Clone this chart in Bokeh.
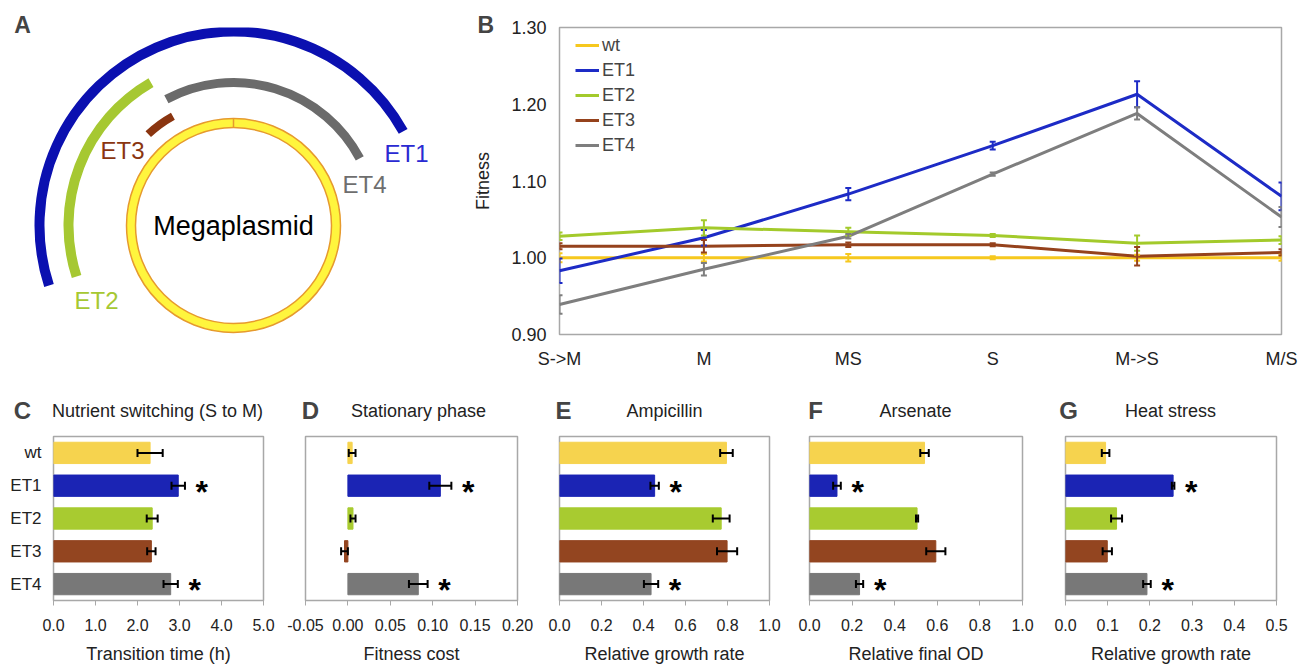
import numpy as np
from bokeh.plotting import figure
from bokeh.models import (Range1d, FactorRange, FixedTicker, NumeralTickFormatter,
                          Label, Whisker, TeeHead, ColumnDataSource, Legend, LegendItem)
from bokeh.layouts import row, column
from bokeh.embed import file_html
from bokeh.resources import INLINE
from bokeh.core.properties import value

FONT = "Liberation Sans"

# ---------------- data ----------------
strains = ["wt", "ET1", "ET2", "ET3", "ET4"]
bar_colors = ["#F6D34E", "#1B24B4", "#A8CB30", "#934520", "#787878"]
line_colors = ["#F6C81E", "#1D2BC6", "#A3CA2B", "#95421C", "#7E7E7E"]

# Panel A: segments on the megaplasmid (angles in degrees)
seg_names = ["ET1", "ET2", "ET4", "ET3"]
seg_radius = [194, 165, 143, 125]
seg_start_deg = [29, 120, 28, 119]
seg_end_deg = [198, 198, 118, 133]
seg_colors = ["#0B10B0", "#A6C832", "#6B6B6B", "#8A3510"]
seg_text_colors = ["#2A2AD2", "#A6C832", "#6E6E6E", "#8A3510"]

# Panel B: fitness per condition
conditions = ["S->M", "M", "MS", "S", "M->S", "M/S"]
fit_wt = [1.000, 1.000, 1.000, 1.000, 1.000, 1.000]
err_wt = [0.006, 0.005, 0.005, 0.002, 0.004, 0.004]
fit_et1 = [0.983, 1.026, 1.083, 1.146, 1.213, 1.080]
err_et1 = [0.016, 0.010, 0.008, 0.005, 0.017, 0.018]
fit_et2 = [1.028, 1.039, 1.034, 1.029, 1.019, 1.023]
err_et2 = [0.005, 0.010, 0.005, 0.002, 0.010, 0.005]
fit_et3 = [1.015, 1.015, 1.017, 1.017, 1.002, 1.007]
err_et3 = [0.004, 0.008, 0.003, 0.002, 0.012, 0.004]
fit_et4 = [0.939, 0.985, 1.028, 1.109, 1.188, 1.053]
err_et4 = [0.012, 0.008, 0.003, 0.002, 0.008, 0.013]

# Panels C-G
switch_time = [2.30, 2.97, 2.35, 2.33, 2.79]
switch_err = [0.30, 0.16, 0.13, 0.10, 0.17]
stat_cost = [0.005, 0.109, 0.006, -0.004, 0.083]
stat_err = [0.004, 0.013, 0.003, 0.004, 0.011]
amp_rate = [0.795, 0.453, 0.770, 0.798, 0.436]
amp_err = [0.030, 0.020, 0.040, 0.048, 0.034]
ars_od = [0.540, 0.129, 0.505, 0.593, 0.235]
ars_err = [0.020, 0.018, 0.005, 0.045, 0.017]
heat_rate = [0.095, 0.255, 0.121, 0.099, 0.193]
heat_err = [0.009, 0.003, 0.013, 0.011, 0.009]
significant = [False, True, False, False, True]

# ---------------- panel A ----------------
cx, cy = 233, -225
pA = figure(width=470, height=373, x_range=Range1d(0, 470), y_range=Range1d(-334, -27),
            output_backend="svg", toolbar_location=None,
            min_border_left=0, min_border_right=0, min_border_top=27, min_border_bottom=39)
pA.axis.visible = False
pA.grid.visible = False
pA.outline_line_color = None
seg_widths = [10, 10, 9, 8]
for r, a0, a1, c, w in zip(seg_radius, seg_start_deg, seg_end_deg, seg_colors, seg_widths):
    pA.arc(x=cx, y=cy, radius=r, start_angle=np.deg2rad(a0), end_angle=np.deg2rad(a1),
           direction="anticlock", line_color=c, line_width=w, line_cap="butt")
pA.annulus(x=cx, y=cy, inner_radius=98, outer_radius=107, fill_color="#FFF53D",
           line_color="#E69A2E", line_width=1.5)
pA.segment(x0=cx, y0=cy + 98, x1=cx, y1=cy + 107, line_color="#E69A2E", line_width=1.5)
seg_label_pos = [(406, -153), (96, -300), (364, -184), (122, -150)]
for n, (lx, ly), c in zip(seg_names, seg_label_pos, seg_text_colors):
    pA.add_layout(Label(x=lx, y=ly, text=n, text_color=c, text_font=FONT, text_font_size="24px",
                        text_align="center", text_baseline="middle"))
pA.add_layout(Label(x=cx, y=cy, text="Megaplasmid", text_color="black", text_font=FONT,
                    text_font_size="27px", text_align="center", text_baseline="middle"))
pA.add_layout(Label(x=22, y=-24, text="A", text_font=FONT, text_font_size="23px",
                    text_font_style="bold", text_align="center", text_baseline="alphabetic"),
              "above")

# ---------------- panel B ----------------
pB = figure(width=828, height=373, x_range=Range1d(0, 5), y_range=Range1d(0.9, 1.3),
            output_backend="svg", toolbar_location=None,
            min_border_left=86, min_border_right=17, min_border_top=27, min_border_bottom=39)
pB.grid.visible = False
pB.outline_line_color = "#A8A8A8"
pB.outline_line_width = 1.5
idx = list(range(len(conditions)))
series = [("wt", fit_wt, err_wt), ("ET1", fit_et1, err_et1), ("ET2", fit_et2, err_et2),
          ("ET3", fit_et3, err_et3), ("ET4", fit_et4, err_et4)]
items = []
for (name, fit, err), col in zip(series, line_colors):
    r = pB.line(x=idx, y=fit, line_color=col, line_width=3)
    src = ColumnDataSource(dict(x=idx, lo=[f - e for f, e in zip(fit, err)],
                                hi=[f + e for f, e in zip(fit, err)]))
    wk = Whisker(base="x", lower="lo", upper="hi", dimension="height", source=src,
                 line_color=col, line_width=2, level="overlay",
                 upper_head=TeeHead(size=6, line_color=col, line_width=2),
                 lower_head=TeeHead(size=6, line_color=col, line_width=2))
    pB.add_layout(wk)
    items.append(LegendItem(label=name, renderers=[r]))
legend = Legend(items=items, location=(16, 178), label_text_font=FONT, label_text_font_size="18px",
                glyph_width=24, glyph_height=22, label_height=22, spacing=3, padding=2, margin=0,
                label_standoff=3, border_line_color=None, background_fill_alpha=0)
pB.add_layout(legend)
pB.xaxis.ticker = FixedTicker(ticks=idx)
pB.xaxis.major_label_overrides = {i: c for i, c in zip(idx, conditions)}
pB.yaxis.ticker = FixedTicker(ticks=[0.9, 1.0, 1.1, 1.2, 1.3])
pB.yaxis.formatter = NumeralTickFormatter(format="0.00")
for ax in (pB.xaxis[0], pB.yaxis[0]):
    ax.axis_line_color = None
    ax.major_tick_line_color = None
    ax.minor_tick_line_color = None
    ax.major_tick_out = 0
    ax.major_tick_in = 0
    ax.major_label_text_font = FONT
    ax.major_label_text_font_size = "18px"
    ax.major_label_text_color = "#222222"
pB.xaxis.major_label_standoff = 14
pB.yaxis.major_label_standoff = 13
pB.yaxis.axis_label = "Fitness"
pB.yaxis.axis_label_text_font = FONT
pB.yaxis.axis_label_text_font_size = "18px"
pB.yaxis.axis_label_text_font_style = "normal"
pB.yaxis.axis_label_text_color = "#222222"
pB.yaxis.axis_label_standoff = 15
pB.add_layout(Label(x=-0.51, y=1.3 + 3 / 767.5, text="B", text_font=FONT, text_font_size="23px",
                    text_font_style="bold", text_align="center", text_baseline="alphabetic"),
              "above")


# ---------------- panels C-G ----------------
def bar_panel(width, bl, br, lo, hi, ticks, fmt, vals, errs, letter, letter_dx, title, title_dx,
              xlabel, show_y):
    frame_w = width - bl - br
    p = figure(width=width, height=293, x_range=Range1d(lo, hi),
               y_range=FactorRange(factors=strains[::-1]),
               output_backend="svg", toolbar_location=None,
               min_border_left=bl, min_border_right=br, min_border_top=63, min_border_bottom=65)
    p.grid.visible = False
    p.outline_line_color = "#A8A8A8"
    p.outline_line_width = 1.5
    src = ColumnDataSource(dict(y=strains, v=vals, c=bar_colors,
                                lo=[v - e for v, e in zip(vals, errs)],
                                hi=[v + e for v, e in zip(vals, errs)]))
    p.hbar(y="y", left=0, right="v", height=0.65, fill_color="c", line_color="c", source=src)
    wk = Whisker(base="y", lower="lo", upper="hi", dimension="width", source=src,
                 line_color="black", line_width=2, level="overlay",
                 upper_head=TeeHead(size=8, line_color="black", line_width=2),
                 lower_head=TeeHead(size=8, line_color="black", line_width=2))
    p.add_layout(wk)
    rng = hi - lo
    sx = [v + e + 0.08 * rng for v, e, s in zip(vals, errs, significant) if s]
    sy = [y for y, s in zip(strains, significant) if s]
    p.text(x=sx, y=sy, text=["*"] * len(sx), text_font=value(FONT), text_font_size="32px",
           text_font_style="bold", text_color="black", text_align="center",
           text_baseline="alphabetic", y_offset=6)
    p.xaxis.ticker = FixedTicker(ticks=ticks)
    p.xaxis.formatter = NumeralTickFormatter(format=fmt)
    xa = p.xaxis[0]
    xa.axis_line_color = None
    xa.major_tick_line_color = "#A8A8A8"
    xa.major_tick_out = 5
    xa.major_tick_in = 0
    xa.minor_tick_line_color = None
    xa.major_label_standoff = 13
    xa.major_label_text_font = FONT
    xa.major_label_text_font_size = "16px"
    xa.major_label_text_color = "#222222"
    xa.axis_label = xlabel
    xa.axis_label_text_font = FONT
    xa.axis_label_text_font_size = "18px"
    xa.axis_label_text_font_style = "normal"
    xa.axis_label_text_color = "#222222"
    xa.axis_label_standoff = 10
    ya = p.yaxis[0]
    if show_y:
        ya.axis_line_color = None
        ya.major_tick_line_color = None
        ya.minor_tick_line_color = None
        ya.major_tick_out = 0
        ya.major_label_standoff = 12
        ya.major_label_text_font = FONT
        ya.major_label_text_font_size = "17px"
        ya.major_label_text_color = "#222222"
    else:
        ya.visible = False
    per_px = rng / frame_w
    ytxt = 5 + 26 / 33.0
    p.add_layout(Label(x=lo + letter_dx * per_px, y=ytxt, text=letter, text_font=FONT,
                       text_font_size="24px", text_font_style="bold", text_align="center",
                       text_baseline="alphabetic"), "above")
    p.add_layout(Label(x=lo + title_dx * per_px, y=ytxt, text=title, text_font=FONT,
                       text_font_size="18px", text_color="#222222", text_align="center",
                       text_baseline="alphabetic"), "above")
    return p


pC = bar_panel(284, 53, 21, 0, 5, [0, 1, 2, 3, 4, 5], "0.0", switch_time, switch_err,
               "C", -31, "Nutrient switching (S to M)", 104, "Transition time (h)", True)
pD = bar_panel(254, 21, 21, -0.05, 0.20, [-0.05, 0, 0.05, 0.10, 0.15, 0.20], "0.00",
               stat_cost, stat_err, "D", 5, "Stationary phase", 113, "Fitness cost", False)
pE = bar_panel(250, 21, 19, 0, 1.0, [0, 0.2, 0.4, 0.6, 0.8, 1.0], "0.0", amp_rate, amp_err,
               "E", 4, "Ampicillin", 105, "Relative growth rate", False)
pF = bar_panel(252, 21, 18, 0, 1.0, [0, 0.2, 0.4, 0.6, 0.8, 1.0], "0.0", ars_od, ars_err,
               "F", 6, "Arsenate", 106, "Relative final OD", False)
pG = bar_panel(258, 25, 22, 0, 0.5, [0, 0.1, 0.2, 0.3, 0.4, 0.5], "0.0", heat_rate, heat_err,
               "G", 3, "Heat stress", 105, "Relative growth rate", False)

layout = column(row(pA, pB), row(pC, pD, pE, pF, pG))
open("out.html", "w").write(file_html(layout, INLINE))
